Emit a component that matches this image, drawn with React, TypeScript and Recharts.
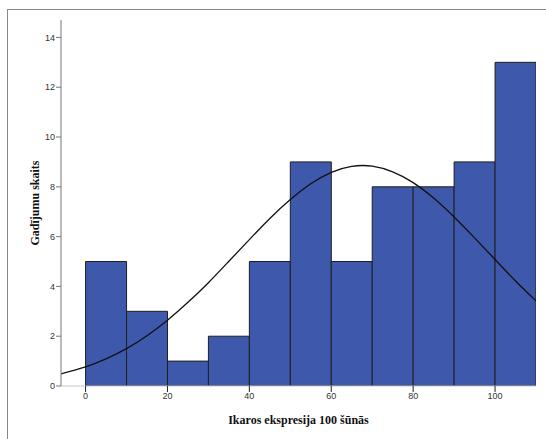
import React from "react";
import { ComposedChart, Bar, Line, XAxis, YAxis } from "recharts";

const binCenters = [5, 15, 25, 35, 45, 55, 65, 75, 85, 95, 105];
const counts = [5, 3, 1, 2, 5, 9, 5, 8, 8, 9, 13];

const curveX = [-6, 0, 5, 10, 15, 20, 25, 30, 35, 40, 45, 50, 55, 60, 65, 70, 75, 80, 85, 90, 95, 100, 105, 110];
const curveY = [0.49, 0.77, 1.09, 1.5, 2.02, 2.64, 3.36, 4.15, 5.01, 5.88, 6.73, 7.49, 8.12, 8.58, 8.82, 8.83, 8.6, 8.17, 7.55, 6.79, 5.95, 5.08, 4.22, 3.42];

const xTicks = [0, 20, 40, 60, 80, 100];
const yTicks = [0, 2, 4, 6, 8, 10, 12, 14];

const barData = binCenters.map((x, i) => ({ x, count: counts[i] }));
const curveData = curveX.map((x, i) => ({ x, y: curveY[i] }));

const tickStyle = { fontFamily: "Liberation Sans, Arial, sans-serif", fontSize: 9, fill: "#333" };
const titleStyle = { fontFamily: "Liberation Serif, Times New Roman, serif", fontSize: 12, fontWeight: "bold", fill: "#111" };

export default function App() {
  return (
    <div style={{ position: "absolute", left: 0, top: 0, width: 546, height: 439, background: "#fff" }}>
      <div
        style={{
          position: "absolute",
          left: 7,
          top: 9,
          width: 539,
          height: 430,
          borderTop: "1px solid #888",
          borderLeft: "1px solid #888",
          boxSizing: "border-box",
        }}
      />
      <div style={{ position: "absolute", left: 0, top: 0 }}>
        <ComposedChart
          width={546}
          height={439}
          data={barData}
          margin={{ top: 20, right: 10, bottom: 23, left: 21 }}
          barCategoryGap={0}
          barGap={0}
        >
          <XAxis
            dataKey="x"
            type="number"
            domain={[-6, 110]}
            ticks={xTicks}
            height={30}
            tick={tickStyle}
            tickSize={6}
            tickMargin={1}
            axisLine={{ stroke: "#c8c8c8" }}
            tickLine={{ stroke: "#222" }}
            allowDataOverflow
            label={{ value: "Ikaros ekspresija 100 šūnās", position: "center", dy: 19, style: titleStyle }}
          />
          <XAxis
            xAxisId="curve"
            dataKey="x"
            type="number"
            domain={[-6, 110]}
            allowDataOverflow
            hide
          />
          <YAxis
            type="number"
            domain={[0, 14.7]}
            ticks={yTicks}
            width={40}
            tick={tickStyle}
            tickSize={5}
            tickMargin={1}
            axisLine={{ stroke: "#777" }}
            tickLine={{ stroke: "#777" }}
            allowDataOverflow
            label={{ value: "Gadījumu skaits", angle: -90, position: "center", dx: -6, style: titleStyle }}
          />
          <Bar dataKey="count" fill="#3e58ab" stroke="#1e1e1e" strokeWidth={1} isAnimationActive={false} />
          <Line
            xAxisId="curve"
            data={curveData}
            dataKey="y"
            type="natural"
            stroke="#111"
            strokeWidth={1.3}
            dot={false}
            activeDot={false}
            isAnimationActive={false}
          />
        </ComposedChart>
      </div>
    </div>
  );
}
